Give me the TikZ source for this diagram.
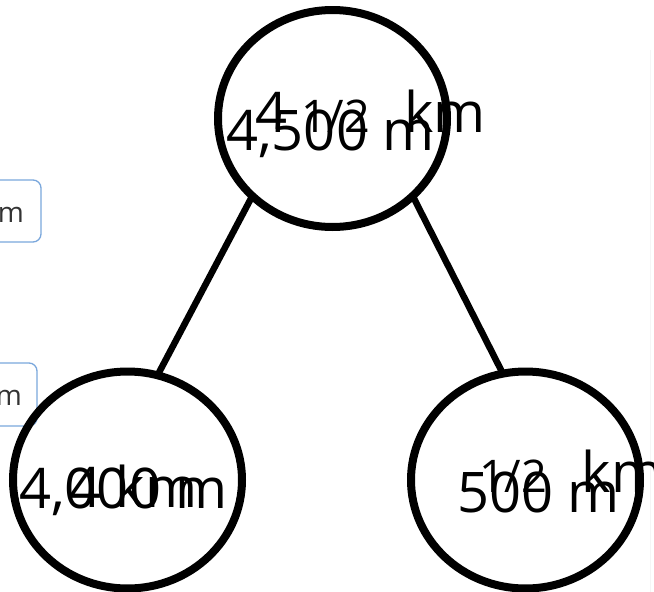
\documentclass[tikz,border=0pt]{standalone}
\usepackage{fontspec}
\setmainfont{Open Sans}
\usetikzlibrary{shapes.geometric}
\definecolor{tagblue}{HTML}{7AA7DC}
\definecolor{tagtext}{HTML}{333333}
\newcommand{\bigsize}{\fontsize{56}{56}\selectfont}
\newcommand{\fracsize}{\fontsize{45}{45}\selectfont}
\newcommand{\halfof}{{\fracsize 1/2}}
\tikzset{
  dist/.style={ellipse, draw, line width=8pt, inner sep=0pt, outer sep=0pt,
    minimum width=229pt, minimum height=217pt},
  link/.style={line width=6.5pt},
  amount/.style={anchor=base west, inner sep=0pt, font=\bigsize},
  tagbox/.style={draw=tagblue, line width=1.3pt, rounded corners=8pt},
  tagword/.style={anchor=base east, inner sep=0pt, text=tagtext, font=\fontsize{28}{28}\selectfont}
}

\begin{document}
\begin{tikzpicture}[x=1pt, y=-1pt]

  \useasboundingbox (0,0) rectangle (654,592);

  % clipped answer tags on the left
  \draw[tagbox] (-40,180) rectangle (41,242);
  \node[tagword] (tag1) at (24,222) {m};
  \draw[tagbox] (-40,363) rectangle (37,426);
  \node[tagword] (tag2) at (22,405) {m};

  % faint edge on the right
  \draw[black!4, line width=1pt] (650,50) -- (650,592);

  \node[dist] (top) at (332.5,118.5) {};
  \node[dist] (left) at (127.5,480) {};
  \node[dist] (right) at (525.5,480) {};

  \draw[link] (top.224) -- (left.74);
  \draw[link] (top.316) -- (right.102);

  \node[amount] (topm) at (226,150) {4,500 m};
  \node[amount] (topkm) at (255,132) {4 \halfof\hspace{20pt} km};

  \node[amount] (leftm) at (19,508) {4,000 m};
  \node[amount] (leftkm) at (69,507) {4 km};

  \node[amount] (rightm) at (457,512) {500 m};
  \node[amount] (rightkm) at (479,492) {\halfof\hspace{20pt} km};

\end{tikzpicture}
\end{document}
